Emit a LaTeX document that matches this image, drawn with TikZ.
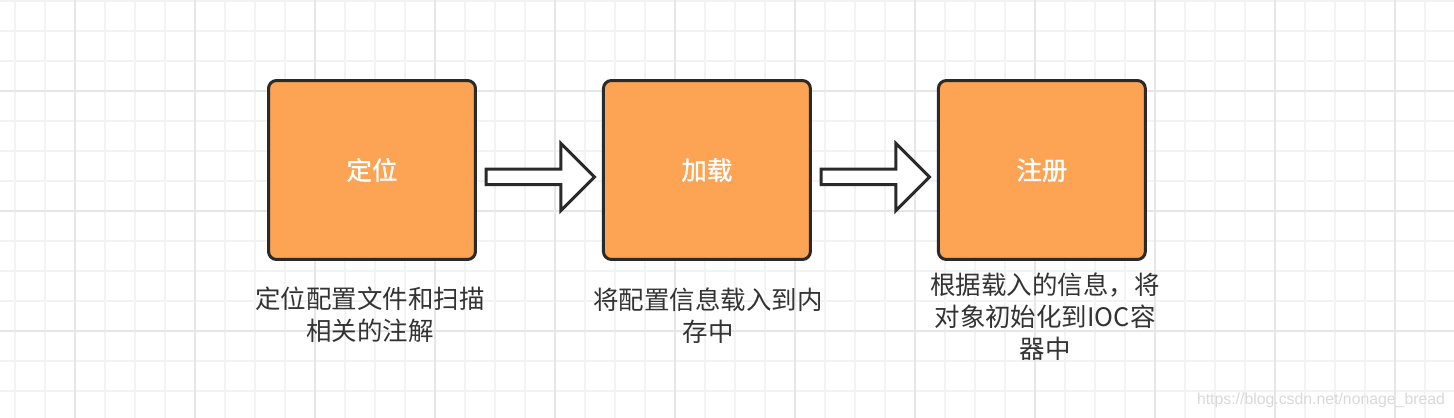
\documentclass[tikz,border=0pt]{standalone}
\usepackage{fontspec}
\setmainfont{Liberation Sans}
\newfontfamily\cjk{Noto Sans CJK SC}
\newfontfamily\cjkbox[FakeBold=1.2]{Noto Sans CJK SC}
\usetikzlibrary{positioning,calc,shapes.arrows}
\definecolor{boxorange}{HTML}{FCA454}
\definecolor{edgegray}{HTML}{2A2A2A}
\definecolor{txtgray}{HTML}{333333}
\definecolor{gridminor}{HTML}{F3F3F3}
\definecolor{gridmajor}{HTML}{E6E6E6}

\begin{document}
\begin{tikzpicture}[x=0.02cm, y=-0.02cm,
  stepbox/.style={draw=edgegray, line width=0.06cm, fill=boxorange, rounded corners=0.16cm,
    minimum width=4.14cm, minimum height=3.58cm, inner sep=0pt, text=white,
    font=\cjkbox\fontsize{14.5}{17}\selectfont},
  blockarrow/.style={single arrow, draw=edgegray, fill=white, line width=0.06cm,
    single arrow head extend=0.52cm, minimum height=2.17cm, inner ysep=0.125cm, inner xsep=0pt},
  note/.style={align=center, text=txtgray, font=\cjk\fontsize{14.5}{18.2}\selectfont}]
  \useasboundingbox (0,0) rectangle (1454,418);
  \fill[white] (0,0) rectangle (1454,418);
  % grid, minor every 30px, major every 120px
  \foreach \gx in {15,45,...,1445}
    \draw[gridminor, line width=0.03cm] (\gx,0) -- (\gx,418);
  \foreach \gy in {1,31,...,410}
    \draw[gridminor, line width=0.03cm] (0,\gy) -- (1454,\gy);
  \foreach \gx in {75,195,...,1445}
    \draw[gridmajor, line width=0.03cm] (\gx,0) -- (\gx,418);
  \foreach \gy in {91,211,331}
    \draw[gridmajor, line width=0.03cm] (0,\gy) -- (1454,\gy);
  % three steps
  \node[stepbox] (dingwei) at (372,170) {定位};
  \node[stepbox, right=2.5cm of dingwei] (jiazai) {加载};
  \node[stepbox, right=2.5cm of jiazai] (zhuce) {注册};
  \node[blockarrow] (arrowa) at ($(dingwei.east)!0.5!(jiazai.west)+(-3,7)$) {};
  \node[blockarrow] (arrowb) at ($(jiazai.east)!0.5!(zhuce.west)+(-3,7)$) {};
  % captions
  \node[note] (notea) at (370,315) {定位配置文件和扫描\\相关的注解};
  \node[note] (noteb) at (708,316) {将配置信息载入到内\\存中};
  \node[note] (notec) at (1045,317) {根据载入的信息，将\\对象初始化到IOC容\\器中};
  \node[text=gray!30, font=\fontsize{9}{10}\selectfont] (mark) at (1321,400) {https://blog.csdn.net/nonage\_bread};
\end{tikzpicture}
\end{document}
